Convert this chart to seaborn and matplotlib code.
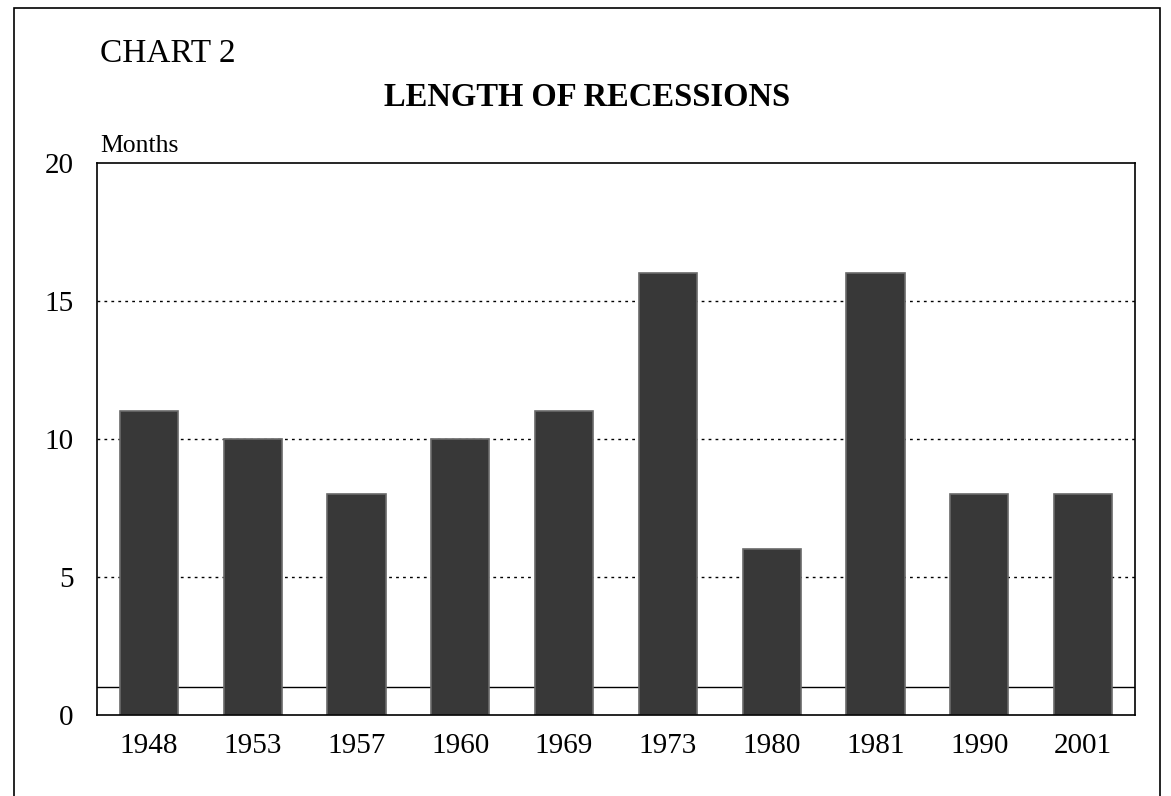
import pandas as pd
import matplotlib.pyplot as plt
import seaborn as sns
from matplotlib.patches import Rectangle

# Datos del grafico
anios = ['1948', '1953', '1957', '1960', '1969', '1973', '1980', '1981', '1990', '2001']
meses = [11, 10, 8, 10, 11, 16, 6, 16, 8, 8]
y_ticks = [0, 5, 10, 15, 20]

data = pd.DataFrame({'anio': anios, 'meses': meses})

sns.set_style("white")
plt.rcParams['font.family'] = ['Liberation Serif', 'DejaVu Serif']
plt.rcParams['text.color'] = 'black'
plt.rcParams['xtick.color'] = 'black'
plt.rcParams['ytick.color'] = 'black'

fig = plt.figure(figsize=(11.71, 7.96), dpi=100)
ax = fig.add_axes([97 / 1171, 1 - 715 / 796, (1135 - 97) / 1171, (715 - 163) / 796])

# lineas de fondo
for v in [5, 10, 15]:
    ax.axhline(v, color='black', linestyle=(0, (2, 3)), linewidth=1.0, zorder=0)
ax.axhline(1, color='black', linewidth=1.0, zorder=0)

sns.barplot(data=data, x='anio', y='meses', color='#383838', width=0.56,
            saturation=1, edgecolor='#6a6a6a', linewidth=1.2, ax=ax, zorder=2)

ax.set_xlim(-0.5, len(anios) - 0.5)
ax.set_ylim(0, 20)
ax.set_yticks(y_ticks)
ax.set_yticklabels([str(t) for t in y_ticks])
ax.set_xlabel('')
ax.set_ylabel('')
ax.tick_params(axis='x', length=0, labelsize=21, pad=13)
ax.tick_params(axis='y', length=0, labelsize=21, pad=17)
for s in ax.spines.values():
    s.set_visible(True)
    s.set_color('black')
    s.set_linewidth(1.2)

# textos
fig.text(100 / 1171, 1 - 54 / 796, 'CHART 2', fontsize=24, va='center', ha='left')
fig.text(587 / 1171, 1 - 98 / 796, 'LENGTH OF RECESSIONS', fontsize=23.5,
         fontweight='bold', va='center', ha='center')
fig.text(100 / 1171, 1 - 146 / 796, 'Months', fontsize=18.5, va='center', ha='left')

# marco exterior
fig.patches.append(Rectangle((14 / 1171, -0.01), (1160 - 14) / 1171, 1 - 8 / 796 + 0.01,
                             transform=fig.transFigure, fill=False,
                             edgecolor='black', linewidth=1.2))

fig.savefig('out.png', dpi=100)
